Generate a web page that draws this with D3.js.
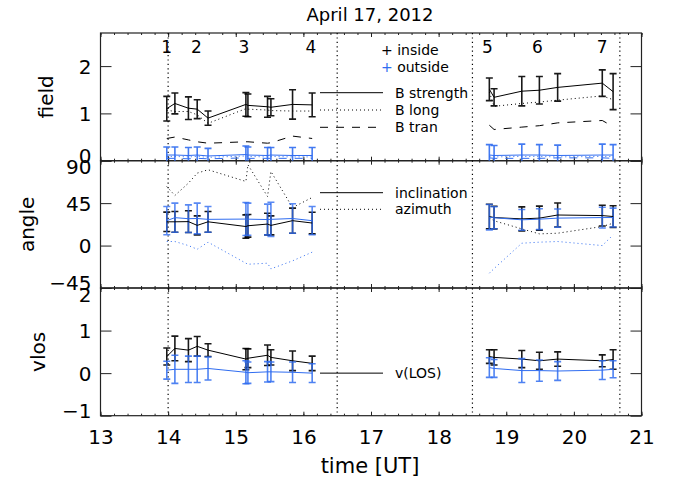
<!DOCTYPE html>
<html>
<head>
<meta charset="utf-8">
<script src="https://cdn.jsdelivr.net/npm/d3@7"></script>
<style>
  body { margin: 0; background: #fff; }
  text { font-family: "DejaVu Sans", sans-serif; fill: #000; }
</style>
</head>
<body>
<svg id="chart" width="678" height="488"></svg>
<script>
// observation times [UT]; two observing runs
const times = [13.98, 14.10, 14.30, 14.43, 14.59, 15.15, 15.18, 15.47, 15.52, 15.84, 16.13,
  18.75, 18.82, 19.23, 19.49, 19.76, 20.42, 20.58];
const segments = [[0, 11], [11, 18]];
const runBounds = [14, 16.5, 18.5, 20.68];
const eventLabels = ["1", "2", "3", "4", "5", "6", "7"];
const eventTimes = [13.98, 14.42, 15.12, 16.11, 18.72, 19.46, 20.42];

// field panel (inside = black, outside = blue)
const bStrIn = [1.10, 1.21, 1.11, 1.09, 0.90, 1.19, 1.17, 1.14, 1.13, 1.19, 1.18,
  1.51, 1.34, 1.47, 1.49, 1.55, 1.64, 1.46];
const bStrInErr = [0.26, 0.22, 0.24, 0.20, 0.15, 0.25, 0.24, 0.22, 0.18, 0.31, 0.25,
  0.24, 0.18, 0.31, 0.29, 0.29, 0.28, 0.38];
const bLongIn = [1.07, 1.04, 1.04, 0.97, 0.79, 1.10, 1.09, 1.07, 1.06, 1.05, 1.05,
  1.45, 1.15, 1.21, 1.24, 1.28, 1.37, 1.29];
const bTranIn = [0.47, 0.50, 0.44, 0.40, 0.37, 0.40, 0.40, 0.37, 0.38, 0.52, 0.47,
  0.75, 0.66, 0.71, 0.74, 0.80, 0.85, 0.72];
const bStrOut = [0.12, 0.12, 0.11, 0.12, 0.10, 0.13, 0.12, 0.11, 0.12, 0.11, 0.11,
  0.12, 0.11, 0.12, 0.12, 0.11, 0.12, 0.12];
const bStrOutErr = [0.17, 0.17, 0.17, 0.17, 0.16, 0.18, 0.17, 0.17, 0.16, 0.17, 0.17,
  0.22, 0.21, 0.23, 0.22, 0.22, 0.23, 0.22];
const bLongOut = [0.09, 0.09, 0.08, 0.09, 0.07, 0.10, 0.09, 0.08, 0.09, 0.08, 0.08,
  0.09, 0.08, 0.09, 0.09, 0.08, 0.09, 0.09];
const bTranOut = [0.05, 0.05, 0.04, 0.05, 0.04, 0.06, 0.05, 0.05, 0.05, 0.05, 0.05,
  0.06, 0.05, 0.05, 0.05, 0.06, 0.06, 0.05];

// angle panel
const inclIn = [25.2, 25.2, 25.4, 21.4, 25.2, 20.2, 21.0, 22.8, 21.4, 26.4, 23.9,
  30.8, 29.7, 28.3, 29.1, 32.4, 31.8, 30.8];
const inclInErr = [10.3, 11.0, 11.5, 10.1, 11.0, 12.4, 12.0, 11.5, 10.1, 13.3, 11.5,
  13.0, 12.0, 12.7, 12.7, 12.7, 11.0, 11.5];
const inclOut = [26.4, 29.6, 28.5, 28.7, 27.8, 28.1, 28.0, 27.6, 27.8, 28.7, 26.4,
  30.1, 29.5, 27.3, 28.0, 29.1, 29.7, 29.7];
const inclOutErr = [15.0, 15.4, 14.7, 16.3, 13.6, 17.5, 17.0, 16.3, 18.2, 15.6, 15.0,
  13.5, 11.7, 11.0, 11.0, 9.7, 11.0, 10.0];
const azIn = [62.6, 53.1, 66.2, 76.8, 80.4, 68.0, 85.7, 52.0, 78.6, 40.3, 51.0,
  29.4, 26.3, 17.7, 12.4, 13.1, 20.2, 23.7];
const azOut = [4.3, 4.3, 0.0, -3.9, 3.6, -18.7, -19.8, -18.7, -24.7, -16.2, -7.0,
  -29.3, -24.4, 2.5, 3.6, 4.3, 0.0, 11.3];

// line-of-sight velocity panel
const vlosIn = [0.39, 0.58, 0.54, 0.63, 0.54, 0.33, 0.35, 0.42, 0.37, 0.29, 0.23,
  0.39, 0.37, 0.33, 0.29, 0.33, 0.29, 0.32];
const vlosInErr = [0.20, 0.29, 0.27, 0.23, 0.15, 0.25, 0.22, 0.24, 0.18, 0.23, 0.17,
  0.16, 0.18, 0.20, 0.20, 0.17, 0.14, 0.23];
const vlosOut = [0.07, 0.09, 0.09, 0.09, 0.11, 0.02, 0.01, 0.03, 0.03, 0.02, 0.00,
  0.13, 0.11, 0.06, 0.06, 0.05, 0.07, 0.09];
const vlosOutErr = [0.21, 0.33, 0.31, 0.31, 0.27, 0.27, 0.25, 0.24, 0.23, 0.24, 0.22,
  0.23, 0.21, 0.28, 0.25, 0.22, 0.22, 0.20];

const hourTicks = d3.range(13, 22);
const minorTicks = d3.range(13, 21.001, 0.2);

const BLUE = "#2f6cf0";
const DOT = "1,3";
const DASH = "8,8";

const svg = d3.select("svg#chart");
const x = d3.scaleLinear().domain([13, 21]).range([100.5, 641.5]);

const panels = [
  {id: "field", domain: [0, 2.7], top: 33, bottom: 160.7, ticks: [0, 1, 2], titleX: 46},
  {id: "angle", domain: [-45, 90], top: 160.7, bottom: 288, ticks: [-45, 0, 45, 90], titleX: 27},
  {id: "vlos", domain: [-1, 2], top: 288, bottom: 415.7, ticks: [-1, 0, 1, 2], titleX: 38},
];

/**
 * Draws one series as a line, split at the gap between runs.
 */
function drawLine(g, y, values, color, dash) {
  segments.forEach(([s, e]) => {
    const pts = d3.range(s, e).map((i) => [times[i], values[i]]);
    g.append("path")
        .datum(pts)
        .attr("fill", "none")
        .attr("stroke", color)
        .attr("stroke-width", 1)
        .attr("stroke-dasharray", dash)
        .attr("d", d3.line().x((d) => x(d[0])).y((d) => y(d[1])));
  });
}

/**
 * Draws capped error bars.
 */
function drawErrors(g, y, values, errs, color, opacity) {
  values.forEach((v, i) => {
    const cx = x(times[i]);
    const lo = y(v - errs[i]);
    const hi = y(v + errs[i]);
    g.append("path")
        .attr("fill", "none")
        .attr("stroke", color)
        .attr("stroke-width", 1.6)
        .attr("opacity", opacity)
        .attr("d", "M" + cx + "," + lo + "V" + hi +
            "M" + (cx - 3.5) + "," + lo + "H" + (cx + 3.5) +
            "M" + (cx - 3.5) + "," + hi + "H" + (cx + 3.5));
  });
}

const scales = {};
panels.forEach((p) => {
  const y = d3.scaleLinear().domain(p.domain).range([p.bottom, p.top]);
  scales[p.id] = y;
  const w = x.range()[1] - x.range()[0];

  svg.append("clipPath").attr("id", "clip-" + p.id)
      .append("rect")
      .attr("x", x.range()[0]).attr("y", p.top)
      .attr("width", w).attr("height", p.bottom - p.top);

  // y axes, ticks pointing inward
  const left = svg.append("g")
      .attr("transform", "translate(" + x.range()[0] + ",0)")
      .call(d3.axisLeft(y).tickValues(p.ticks).tickSizeInner(-11)
          .tickSizeOuter(0).tickPadding(9).tickFormat(d3.format("d")));
  left.select(".domain").remove();
  // labels at the panel edges sit slightly inside, as in the original
  left.selectAll("text").attr("font-size", 20).attr("font-family", "DejaVu Sans")
      .attr("dy", (d) => d == p.domain[1] ? "0.66em" :
          d == p.domain[0] ? "0.08em" : "0.36em");
  const right = svg.append("g")
      .attr("transform", "translate(" + x.range()[1] + ",0)")
      .call(d3.axisRight(y).tickValues(p.ticks).tickSizeInner(-11)
          .tickSizeOuter(0).tickFormat(""));
  right.select(".domain").remove();

  // x ticks on top and bottom of each panel
  [[p.top, d3.axisTop], [p.bottom, d3.axisBottom]].forEach(([yy, ax]) => {
    const gMinor = svg.append("g").attr("transform", "translate(0," + yy + ")")
        .call(ax(x).tickValues(minorTicks).tickSizeInner(-2).tickSizeOuter(0)
            .tickFormat(""));
    gMinor.select(".domain").remove();
    const gMajor = svg.append("g").attr("transform", "translate(0," + yy + ")")
        .call(ax(x).tickValues(hourTicks).tickSizeInner(-4).tickSizeOuter(0)
            .tickFormat(""));
    gMajor.select(".domain").remove();
  });

  svg.append("rect")
      .attr("x", x.range()[0]).attr("y", p.top)
      .attr("width", w).attr("height", p.bottom - p.top)
      .attr("fill", "none").attr("stroke", "#222").attr("stroke-width", 1.2);

  svg.append("text")
      .attr("transform", "translate(" + p.titleX + "," + ((p.top + p.bottom) / 2) +
          ") rotate(-90)")
      .attr("text-anchor", "middle")
      .attr("dy", "0.35em")
      .attr("font-size", 20)
      .text(p.id);
});

svg.selectAll(".tick line").attr("stroke", "#222");

// x labels under the last panel
const xAxis = svg.append("g")
    .attr("transform", "translate(0," + panels[2].bottom + ")")
    .call(d3.axisBottom(x).tickValues(hourTicks).tickSize(0).tickPadding(14)
        .tickFormat(d3.format("d")));
xAxis.select(".domain").remove();
xAxis.selectAll("text").attr("font-size", 20).attr("font-family", "DejaVu Sans");

// run boundaries
runBounds.forEach((t) => {
  svg.append("line")
      .attr("x1", x(t)).attr("x2", x(t))
      .attr("y1", panels[0].top).attr("y2", panels[2].bottom)
      .attr("stroke", "#000").attr("stroke-width", 1.2)
      .attr("stroke-dasharray", "1.2,3.2");
});

// field
const gField = svg.append("g").attr("clip-path", "url(#clip-field)");
const yF = scales.field;
drawLine(gField, yF, bStrOut, BLUE, null);
drawLine(gField, yF, bLongOut, BLUE, DOT);
drawLine(gField, yF, bTranOut, BLUE, DASH);
drawErrors(gField, yF, bStrOut, bStrOutErr, BLUE, 0.9);
drawLine(gField, yF, bStrIn, "#000", null);
drawLine(gField, yF, bLongIn, "#000", DOT);
drawLine(gField, yF, bTranIn, "#000", DASH);
drawErrors(gField, yF, bStrIn, bStrInErr, "#000", 0.9);

// angle
const gAngle = svg.append("g").attr("clip-path", "url(#clip-angle)");
const yA = scales.angle;
drawLine(gAngle, yA, azIn, "#000", DOT);
drawLine(gAngle, yA, azOut, BLUE, DOT);
drawErrors(gAngle, yA, inclIn, inclInErr, "#000", 0.9);
drawErrors(gAngle, yA, inclOut, inclOutErr, BLUE, 0.8);
drawLine(gAngle, yA, inclIn, "#000", null);
drawLine(gAngle, yA, inclOut, BLUE, null);

// vlos
const gVlos = svg.append("g").attr("clip-path", "url(#clip-vlos)");
const yV = scales.vlos;
drawErrors(gVlos, yV, vlosIn, vlosInErr, "#000", 0.9);
drawLine(gVlos, yV, vlosIn, "#000", null);
drawErrors(gVlos, yV, vlosOut, vlosOutErr, BLUE, 0.85);
drawLine(gVlos, yV, vlosOut, BLUE, null);

// event numbers
eventLabels.forEach((lab, i) => {
  svg.append("text")
      .attr("x", x(eventTimes[i])).attr("y", 47)
      .attr("text-anchor", "middle").attr("dy", "0.36em")
      .attr("font-size", 17)
      .text(lab);
});

// legends
const legX1 = 320;
const legX2 = 383;
const legText = 395;

svg.append("text").attr("x", 381).attr("y", 50.5).attr("dy", "0.35em")
    .attr("font-size", 14).text("+ inside");
const outside = svg.append("text").attr("x", 381).attr("y", 67.5).attr("dy", "0.35em")
    .attr("font-size", 14);
outside.append("tspan").attr("fill", BLUE).style("fill", BLUE).text("+");
outside.append("tspan").text(" outside");

const legendRows = [
  {y: panels[0].top + 59.7, dash: null, label: "B strength"},
  {y: panels[0].top + 77, dash: DOT, label: "B long"},
  {y: panels[0].top + 94.3, dash: DASH, label: "B tran"},
  {y: panels[1].top + 32, dash: null, label: "inclination"},
  {y: panels[1].top + 48.6, dash: DOT, label: "azimuth"},
  {y: yV(0), dash: null, label: "v(LOS)"},
];
legendRows.forEach((r) => {
  svg.append("line")
      .attr("x1", legX1).attr("x2", legX2).attr("y1", r.y).attr("y2", r.y)
      .attr("stroke", "#000").attr("stroke-width", 1)
      .attr("stroke-dasharray", r.dash);
  svg.append("text")
      .attr("x", legText).attr("y", r.y).attr("dy", "0.35em")
      .attr("font-size", 14)
      .text(r.label);
});

svg.append("text")
    .attr("x", 370).attr("y", 15).attr("dy", "0.35em")
    .attr("text-anchor", "middle").attr("font-size", 18)
    .text("April 17, 2012");

svg.append("text")
    .attr("x", 370).attr("y", 466).attr("dy", "0.35em")
    .attr("text-anchor", "middle").attr("font-size", 21)
    .text("time [UT]");
</script>
</body>
</html>
